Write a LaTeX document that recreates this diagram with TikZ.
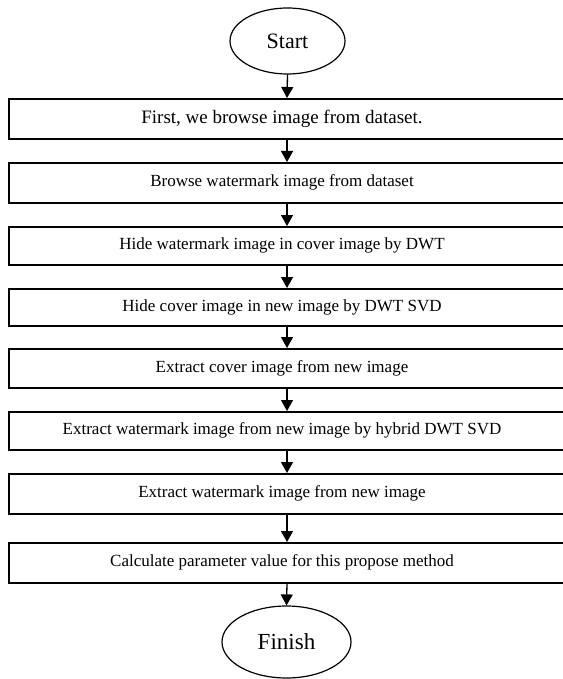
\documentclass[tikz,border=0pt]{standalone}
\usepackage{fontspec}
\setmainfont{Liberation Serif}
\usetikzlibrary{shapes.geometric,arrows.meta}
\tikzset{
  stepbox/.style={draw=black, line width=1.6pt, minimum width=556pt, inner sep=0pt, anchor=north,
    execute at begin node={\hspace*{-10pt}}},
  term/.style={draw=black, ellipse, line width=1.2pt, inner sep=0pt},
  smalltxt/.style={font=\fontsize{17}{20}\selectfont},
  flow/.style={draw=black, line width=1.3pt, -{Triangle[length=11pt,width=12pt]}}
}
\begin{document}
\begin{tikzpicture}[x=1pt,y=-1pt]
\useasboundingbox (0,0) rectangle (562,679);
\node[term, minimum width=115pt, minimum height=66pt, font=\fontsize{22}{24}\selectfont] (start) at (287.5,41) {Start};
\node[stepbox, minimum height=40pt, font=\fontsize{19}{22}\selectfont] (b1) at (287,98) {First, we browse image from dataset.};
\node[stepbox, minimum height=40pt, smalltxt] (b2) at (287,162) {Browse watermark image from dataset};
\node[stepbox, minimum height=38pt, smalltxt] (b3) at (287,226) {Hide watermark image in cover image by DWT};
\node[stepbox, minimum height=37pt, smalltxt] (b4) at (287,288) {Hide cover image in new image by DWT SVD};
\node[stepbox, minimum height=39pt, smalltxt] (b5) at (287,348) {Extract cover image from new image};
\node[stepbox, minimum height=38pt, smalltxt] (b6) at (287,411) {Extract watermark image from new image by hybrid DWT SVD};
\node[stepbox, minimum height=40pt, smalltxt] (b7) at (287,473) {Extract watermark image from new image};
\node[stepbox, minimum height=40pt, smalltxt] (b8) at (287,542) {Calculate parameter value for this propose method};
\node[term, minimum width=129pt, minimum height=72pt, font=\fontsize{23}{26}\selectfont] (fin) at (286.5,642) {Finish};
\draw[flow] (start.south) -- (b1.north);
\draw[flow] (b1.south) -- (b2.north);
\draw[flow] (b2.south) -- (b3.north);
\draw[flow] (b3.south) -- (b4.north);
\draw[flow] (b4.south) -- (b5.north);
\draw[flow] (b5.south) -- (b6.north);
\draw[flow] (b6.south) -- (b7.north);
\draw[flow] (b7.south) -- (b8.north);
\draw[flow] (b8.south) -- (fin.north);
\end{tikzpicture}
\end{document}
